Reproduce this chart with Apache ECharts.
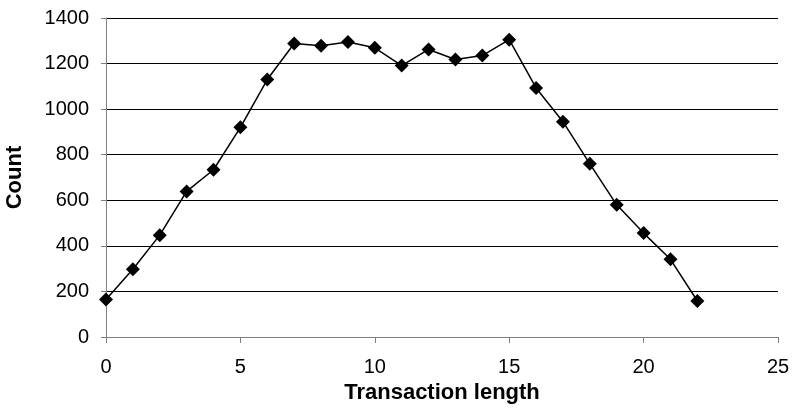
<!DOCTYPE html>
<html><head><meta charset="utf-8">
<script src="https://cdn.jsdelivr.net/npm/echarts@6/dist/echarts.min.js"></script>
<style>html,body{margin:0;padding:0;background:#fff}#c{width:793px;height:410px}</style>
</head><body><div id="c"></div>
<script>
var lengths = [0,1,2,3,4,5,6,7,8,9,10,11,12,13,14,15,16,17,18,19,20,21,22];
var counts = [165,297,447,639,734,920,1130,1288,1278,1295,1269,1191,1262,1218,1235,1305,1093,945,760,580,456,341,158];
var xTitle = 'Transaction length';
var yTitle = 'Count';
var chart = echarts.init(document.getElementById('c'));
var font = 'Liberation Sans, Arial, sans-serif';
function plain(v){ return String(v); }
chart.setOption({
  animation: false,
  grid: {left: 106, right: 15, top: 18, bottom: 73, containLabel: false, outerBoundsMode: 'none'},
  xAxis: {
    type: 'value', min: 0, max: 25, interval: 5,
    name: xTitle, nameLocation: 'middle', nameGap: 42,
    nameTextStyle: {fontFamily: font, fontSize: 22, fontWeight: 'bold', color: '#000'},
    axisLine: {lineStyle: {color: '#808080', width: 1}},
    axisTick: {show: true, length: 6, lineStyle: {color: '#808080'}},
    axisLabel: {fontFamily: font, fontSize: 20, color: '#000', margin: 20, formatter: plain},
    splitLine: {show: false}
  },
  yAxis: {
    type: 'value', min: 0, max: 1400, interval: 200,
    name: yTitle, nameLocation: 'middle', nameGap: 80, nameRotate: 90,
    nameTextStyle: {fontFamily: font, fontSize: 22, fontWeight: 'bold', color: '#000'},
    axisLine: {show: true, lineStyle: {color: '#808080', width: 1}},
    axisTick: {show: true, length: 5, lineStyle: {color: '#808080'}},
    axisLabel: {fontFamily: font, fontSize: 20, color: '#000', margin: 17, formatter: plain},
    splitLine: {show: true, lineStyle: {color: '#000', width: 1}}
  },
  series: [{
    type: 'line',
    data: lengths.map(function(x, i){ return [x, counts[i]]; }),
    symbol: 'diamond', symbolSize: 14,
    lineStyle: {color: '#000', width: 1.5},
    itemStyle: {color: '#000'}
  }]
});
</script></body></html>
